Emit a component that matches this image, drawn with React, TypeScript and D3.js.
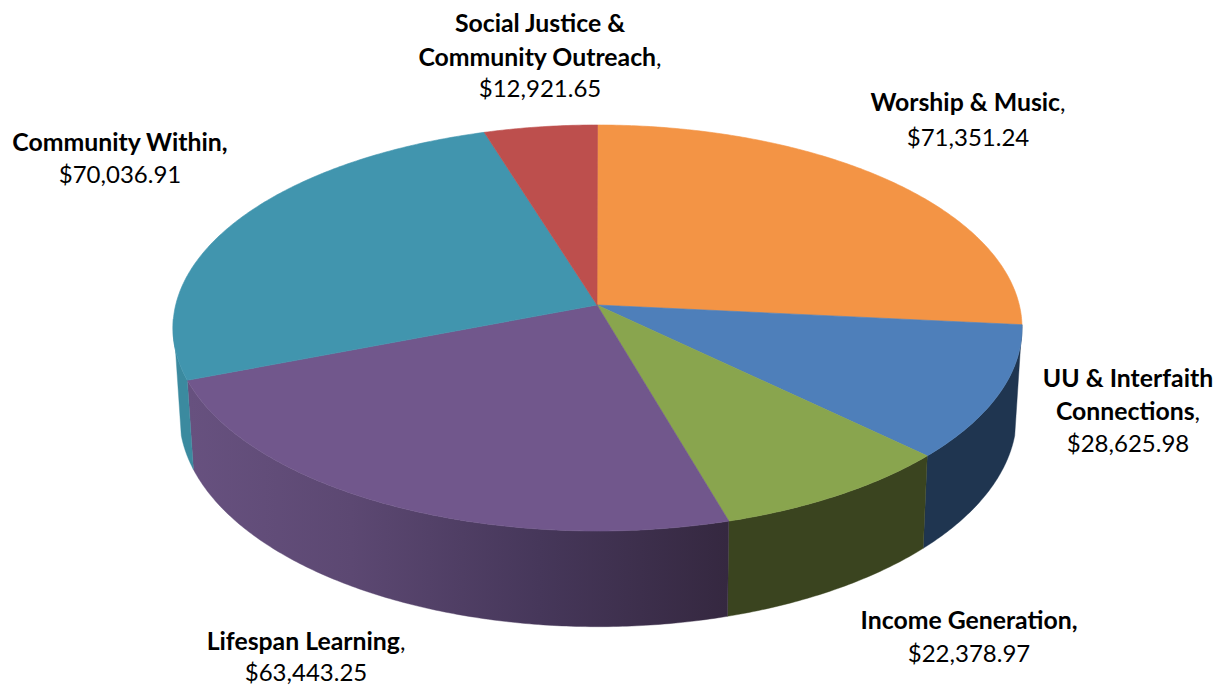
import React from "react";
import * as d3 from "d3";

const categories = ["Worship & Music", "UU & Interfaith Connections", "Income Generation", "Lifespan Learning", "Community Within", "Social Justice & Community Outreach"];
const values = [71351.24, 28625.98, 22378.97, 63443.25, 70036.91, 12921.65];
const topColors = ["#f39445", "#4e7fba", "#89a54e", "#71578c", "#4195ae", "#bd4f4d"];
const sideColors = ["#1f3550", "#1f3550", "#3a441f", "url(#purpleSide)", "#3b8a9f", "#8a3a38"];

type Line = { parts: { t: string; b: boolean }[]; y: number };
const labelX = [968, 1128, 969, 306, 120, 540];
const labelLines: Line[][] = [
  [
    { parts: [{ t: "Worship & Music", b: true }, { t: ",", b: false }], y: 111 },
    { parts: [{ t: "$71,351.24", b: false }], y: 146 },
  ],
  [
    { parts: [{ t: "UU & Interfaith", b: true }], y: 387 },
    { parts: [{ t: "Connections", b: true }, { t: ",", b: false }], y: 420 },
    { parts: [{ t: "$28,625.98", b: false }], y: 452 },
  ],
  [
    { parts: [{ t: "Income Generation,", b: true }], y: 629 },
    { parts: [{ t: "$22,378.97", b: false }], y: 662 },
  ],
  [
    { parts: [{ t: "Lifespan Learning", b: true }, { t: ",", b: false }], y: 650 },
    { parts: [{ t: "$63,443.25", b: false }], y: 680.5 },
  ],
  [
    { parts: [{ t: "Community Within,", b: true }], y: 151 },
    { parts: [{ t: "$70,036.91", b: false }], y: 183 },
  ],
  [
    { parts: [{ t: "Social Justice &", b: true }], y: 32 },
    { parts: [{ t: "Community Outreach", b: true }, { t: ",", b: false }], y: 66 },
    { parts: [{ t: "$12,921.65", b: false }], y: 97 },
  ],
];

const K = 0.1133;
const top = { cx: 597.5, rx: 421.8, ry: 200.4, cy: 305 };
const bottom = { cx: 598, rx: 416, ry: 209, cy: 391 };
const deg = Math.PI / 180;
// silhouette limits of the visible wall on each plane
const topLimits = [95 * deg, 266 * deg];
const bottomLimits = [102 * deg, 258 * deg];

function project(a: number, p: typeof top): [number, number] {
  const u = Math.sin(a);
  const v = -Math.cos(a);
  const d = 1 - K * v;
  return [p.cx + (p.rx * u) / d, p.cy + (p.ry * v) / d];
}

function arcPts(a0: number, a1: number, p: typeof top): [number, number][] {
  const n = Math.max(2, Math.ceil(Math.abs(a1 - a0) / 0.01));
  return d3.range(n + 1).map((i) => project(a0 + ((a1 - a0) * i) / n, p));
}

const closed = d3.line().curve(d3.curveLinearClosed);

export default function App() {
  const arcs = d3.pie<number>().sort(null)(values);
  const apex: [number, number] = [597, top.cy];
  return (
    <svg width={1221} height={686} style={{ position: "absolute", left: 0, top: 0, display: "block", background: "#fff" }}>
      <defs>
        <linearGradient id="purpleSide" gradientUnits="userSpaceOnUse" x1={190} x2={728} y1={0} y2={0}>
          <stop offset="0" stopColor="#67517f" />
          <stop offset="0.3" stopColor="#5c4872" />
          <stop offset="0.65" stopColor="#46375a" />
          <stop offset="1" stopColor="#352840" />
        </linearGradient>
      </defs>
      {arcs.map((d, i) => {
        const t0 = Math.max(d.startAngle, topLimits[0]);
        const t1 = Math.min(d.endAngle, topLimits[1]);
        const b0 = Math.max(d.startAngle, bottomLimits[0]);
        const b1 = Math.min(d.endAngle, bottomLimits[1]);
        if (t1 <= t0 || b1 <= b0) return null;
        const pts = [...arcPts(t0, t1, top), ...arcPts(b1, b0, bottom)];
        const fill = sideColors[i];
        return <path key={categories[i] + "s"} d={closed(pts) ?? ""} fill={fill} stroke={fill} strokeWidth={0.4} />;
      })}
      {arcs.map((d, i) => {
        const pts = [apex, ...arcPts(d.startAngle, d.endAngle, top)];
        return <path key={categories[i]} d={closed(pts) ?? ""} fill={topColors[i]} stroke={topColors[i]} strokeWidth={0.6} />;
      })}
      {labelLines.map((lines, i) => (
        <text key={categories[i] + "l"} textAnchor="middle" fontFamily="Lato" fill="#000">
          {lines.map((l, j) => (
            <tspan key={j} x={labelX[i]} y={l.y}>
              {l.parts.map((p, k) => (
                <tspan key={k} fontWeight={p.b ? 700 : 400} fontSize={p.b ? 24.8 : 24}>{p.t}</tspan>
              ))}
            </tspan>
          ))}
        </text>
      ))}
    </svg>
  );
}
